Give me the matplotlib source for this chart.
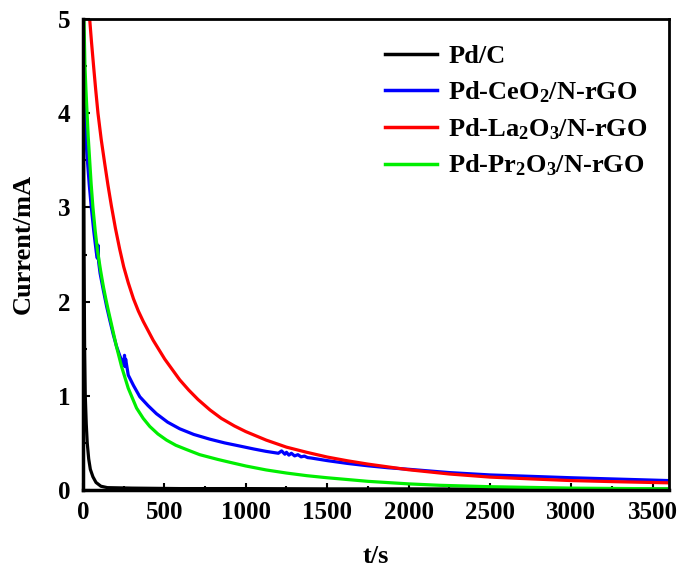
import matplotlib
matplotlib.use("Agg")
import matplotlib.pyplot as plt
from matplotlib.ticker import MultipleLocator

plt.rcParams['font.family'] = ['Liberation Serif', 'DejaVu Serif']
plt.rcParams['font.weight'] = 'bold'
plt.rcParams['mathtext.fontset'] = 'custom'
plt.rcParams['mathtext.rm'] = 'Liberation Serif:bold'
plt.rcParams['mathtext.it'] = 'Liberation Serif:bold'
plt.rcParams['mathtext.bf'] = 'Liberation Serif:bold'

# ---- data ----
labels = ['Pd/C', r'Pd-CeO$_\mathregular{2}$/N-rGO',
          r'Pd-La$_\mathregular{2}$O$_\mathregular{3}$/N-rGO',
          r'Pd-Pr$_\mathregular{2}$O$_\mathregular{3}$/N-rGO']
colors = ['#000000', '#0000ff', '#ff0000', '#00ee00']

t_pdc = [0, 3, 6, 10, 14, 20, 26, 35, 45, 61, 80, 110, 150, 300, 600, 1000, 1500, 2000, 2500, 3000, 3600]
i_pdc = [5.4, 3.8, 2.55, 1.5, 1.0, 0.7, 0.5, 0.33, 0.22, 0.14, 0.08, 0.04, 0.025, 0.02, 0.015, 0.015, 0.012, 0.012, 0.01, 0.01, 0.01]

t_ce = [0, 4, 10, 18, 27, 38, 51, 66, 82, 88, 92, 96, 105, 125, 145, 165, 186, 205, 227, 245, 252, 255, 258, 262, 278, 310, 349,
        400, 451, 520, 594, 680, 778, 870, 962, 1050, 1125, 1200, 1220, 1240, 1250, 1265, 1280, 1300, 1320, 1340, 1360, 1380, 1400,
        1500, 1625, 1750, 1875, 2000, 2250, 2500, 2750, 3000, 3300, 3600]
i_ce = [4.55, 4.3, 4.0, 3.72, 3.5, 3.25, 3.0, 2.75, 2.52, 2.46, 2.6, 2.42, 2.3, 2.12, 1.95, 1.8, 1.65, 1.53, 1.42, 1.35, 1.33, 1.43, 1.31, 1.39, 1.22, 1.11, 0.99,
        0.895, 0.81, 0.72, 0.65, 0.59, 0.54, 0.50, 0.467, 0.435, 0.41, 0.39, 0.415, 0.38, 0.40, 0.37, 0.39, 0.362, 0.375, 0.352, 0.36, 0.344, 0.34,
        0.312, 0.282, 0.257, 0.236, 0.22, 0.185, 0.16, 0.145, 0.13, 0.115, 0.10]

t_la = [41, 52, 65, 78, 92, 112, 133, 153, 174, 199, 225, 250, 278, 310, 340, 370, 431, 502, 594, 650, 707, 780, 850, 930,
        1000, 1125, 1250, 1375, 1500, 1625, 1750, 1875, 2000, 2250, 2500, 2750, 3000, 3300, 3600]
i_la = [5.0, 4.76, 4.5, 4.25, 4.0, 3.72, 3.47, 3.24, 3.02, 2.78, 2.56, 2.37, 2.2, 2.03, 1.9, 1.79, 1.59, 1.39, 1.17, 1.06, 0.96, 0.85, 0.76, 0.68,
        0.62, 0.53, 0.455, 0.40, 0.35, 0.31, 0.275, 0.245, 0.215, 0.17, 0.137, 0.118, 0.10, 0.087, 0.076]

t_pr = [6, 9, 12, 18, 25, 32, 41, 50, 61, 75, 90, 108, 125, 140, 155, 176, 206, 237, 278, 329, 370, 410, 460, 513, 570, 635, 717,
        827, 900, 1000, 1125, 1250, 1375, 1500, 1750, 2000, 2190, 2500, 3000, 3600]
i_pr = [5.0, 4.75, 4.5, 4.25, 4.0, 3.75, 3.5, 3.25, 3.0, 2.75, 2.53, 2.33, 2.16, 2.03, 1.91, 1.75, 1.52, 1.31, 1.08, 0.87, 0.76, 0.675, 0.595, 0.53, 0.475, 0.43, 0.375,
        0.325, 0.295, 0.255, 0.213, 0.18, 0.152, 0.13, 0.092, 0.065, 0.05, 0.035, 0.02, 0.012]

series = [(t_pdc, i_pdc), (t_ce, i_ce), (t_la, i_la), (t_pr, i_pr)]

# ---- figure ----
fig = plt.figure(figsize=(6.83, 5.71), dpi=100)
ax = fig.add_axes([83/683, 1 - 490/571, (669 - 83)/683, (490 - 19)/571])

for (t, i), c, lab in zip(series, colors, labels):
    ax.plot(t, i, color=c, lw=2.3, label=lab, solid_joinstyle='round')

ax.set_xlim(0, 3600)
ax.set_ylim(0, 5)
ax.xaxis.set_major_locator(MultipleLocator(500))
ax.xaxis.set_minor_locator(MultipleLocator(250))
ax.yaxis.set_major_locator(MultipleLocator(1))
ax.yaxis.set_minor_locator(MultipleLocator(0.5))
ax.tick_params(which='both', direction='in', top=False, right=False, width=1.5)
ax.tick_params(which='major', length=5, labelsize=18)
ax.tick_params(axis='x', which='major', pad=8)
ax.tick_params(axis='y', which='major', pad=9)
ax.tick_params(which='minor', length=3)
for lab in ax.get_xticklabels() + ax.get_yticklabels():
    lab.set_fontweight('bold')
for s in ax.spines.values():
    s.set_linewidth(2.0)
ax.spines['bottom'].set_linewidth(2.5)
ax.spines['left'].set_linewidth(2.5)

ax.set_xlabel('t/s', fontsize=19, fontweight='bold', labelpad=15)
ax.set_ylabel('Current/mA', fontsize=19, fontweight='bold')
ax.yaxis.set_label_coords(-0.082, 0.522)

leg = ax.legend(loc='upper right', bbox_to_anchor=(1.0, 0.99), frameon=False,
                fontsize=19, handlelength=1.95, handletextpad=0.45, labelspacing=0.42,
                borderaxespad=0.4)
for line in leg.get_lines():
    line.set_linewidth(2.5)

fig.savefig('out.png', dpi=100)
